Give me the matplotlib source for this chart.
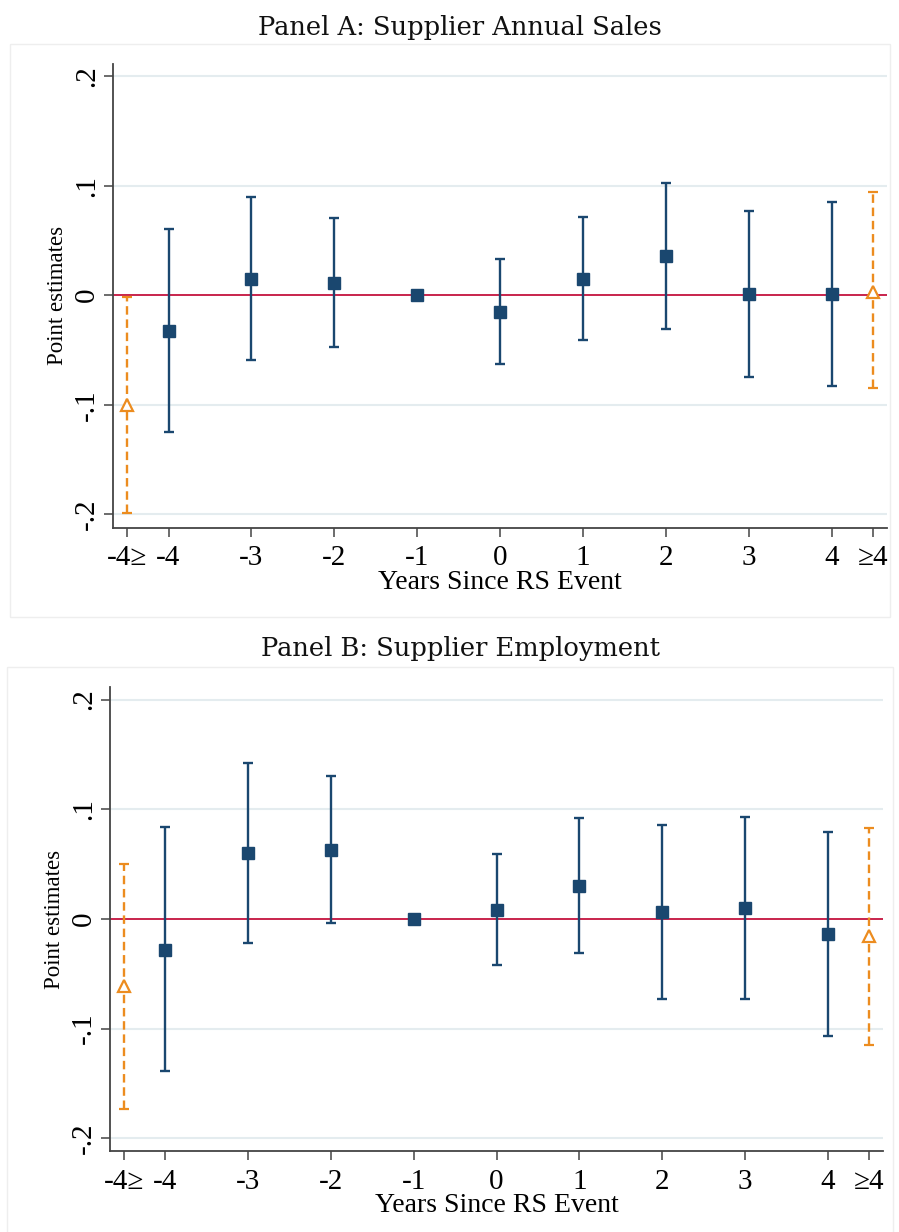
import matplotlib
matplotlib.use("Agg")
import matplotlib.pyplot as plt
from matplotlib.patches import Rectangle
import numpy as np

# event-time positions (-4.5 = "-4>=" bin, 4.5 = ">=4" bin)
main_x = [-4, -3, -2, -1, 0, 1, 2, 3, 4]
bin_x = [-4.5, 4.5]
tick_pos = [-4.5, -4, -3, -2, -1, 0, 1, 2, 3, 4, 4.5]
tick_lbl = ["-4≥", "-4", "-3", "-2", "-1", "0", "1", "2", "3", "4", "≥4"]
ytick_pos = [-0.2, -0.1, 0, 0.1, 0.2]
ytick_lbl = ["-.2", "-.1", "0", ".1", ".2"]

# Panel A: supplier annual sales
a_pt = [-0.033, 0.015, 0.011, 0.0, -0.015, 0.015, 0.036, 0.001, 0.001]
a_lo = [-0.125, -0.059, -0.047, 0.0, -0.063, -0.041, -0.031, -0.075, -0.083]
a_hi = [0.060, 0.090, 0.070, 0.0, 0.033, 0.071, 0.102, 0.077, 0.085]
a_bin_pt = [-0.100, 0.003]
a_bin_lo = [-0.199, -0.085]
a_bin_hi = [-0.002, 0.094]

# Panel B: supplier employment
b_pt = [-0.028, 0.060, 0.063, 0.0, 0.008, 0.030, 0.006, 0.010, -0.014]
b_lo = [-0.139, -0.022, -0.004, 0.0, -0.042, -0.031, -0.073, -0.073, -0.107]
b_hi = [0.084, 0.142, 0.130, 0.0, 0.059, 0.092, 0.086, 0.093, 0.079]
b_bin_pt = [-0.061, -0.016]
b_bin_lo = [-0.173, -0.115]
b_bin_hi = [0.050, 0.083]

NAVY = "#1a476f"
ORANGE = "#ec8c1f"
RED = "#c8244c"
GRID = "#e4ecef"
AXC = "#444444"
SERIF = ["Liberation Serif", "DejaVu Serif"]

fig = plt.figure(figsize=(8.99, 12.32), dpi=100)


def panel(rect, title, title_y, frame, pt, lo, hi, bpt, blo, bhi):
    # faint outer frame like the stata graph region
    fig.patches.append(Rectangle(frame[:2], frame[2], frame[3], transform=fig.transFigure,
                                 fill=False, edgecolor="#eeeeee", lw=1.0))
    fig.text(0.512, title_y, title, ha="center", va="center",
             fontsize=18.5, family=["DejaVu Serif"], color="#111111")

    ax = fig.add_axes(rect)
    ax.set_xlim(-4.67, 4.67)
    ax.set_ylim(-0.212, 0.211)

    for g in [-0.2, -0.1, 0.1, 0.2]:
        ax.axhline(g, color=GRID, lw=1.5, zorder=0)
    ax.axhline(0, color=RED, lw=1.4, zorder=1)

    pt = np.array(pt); lo = np.array(lo); hi = np.array(hi)
    ax.errorbar(main_x, pt, yerr=[pt - lo, hi - pt], fmt="s", color=NAVY,
                ms=9, ecolor=NAVY, elinewidth=1.7, capsize=3.3, capthick=1.7, zorder=3)

    bpt = np.array(bpt); blo = np.array(blo); bhi = np.array(bhi)
    eb = ax.errorbar(bin_x, bpt, yerr=[bpt - blo, bhi - bpt], fmt="^", color=ORANGE,
                     ms=8, mfc="white", mec=ORANGE, mew=1.6, ecolor=ORANGE,
                     elinewidth=1.7, capsize=3.3, capthick=1.6, zorder=3)
    eb[2][0].set_linestyle((0, (3.6, 2.0)))

    for s in ["top", "right"]:
        ax.spines[s].set_visible(False)
    for s in ["left", "bottom"]:
        ax.spines[s].set_color(AXC)
        ax.spines[s].set_linewidth(1.3)

    ax.set_xticks(tick_pos)
    ax.set_xticklabels(tick_lbl, family=SERIF, fontsize=21)
    ax.set_yticks(ytick_pos)
    ax.set_yticklabels(ytick_lbl, family=SERIF, fontsize=21, rotation=90, va="center")
    ax.tick_params(direction="out", length=6.5, width=1.1, color=AXC, pad=3)
    ax.tick_params(axis="x", pad=6)

    ax.set_xlabel("Years Since RS Event", family=SERIF, fontsize=20, labelpad=-1)
    ax.set_ylabel("Point estimates", family=SERIF, fontsize=16.5, labelpad=4)
    return ax


panel([0.1257, 0.5718, 0.861, 0.3763], "Panel A: Supplier Annual Sales", 0.978,
      (0.011, 0.499, 0.979, 0.465), a_pt, a_lo, a_hi, a_bin_pt, a_bin_lo, a_bin_hi)
panel([0.1224, 0.0654, 0.860, 0.3766], "Panel B: Supplier Employment", 0.474,
      (0.008, -0.01, 0.985, 0.469), b_pt, b_lo, b_hi, b_bin_pt, b_bin_lo, b_bin_hi)

fig.savefig("out.png", dpi=100, facecolor="white")
